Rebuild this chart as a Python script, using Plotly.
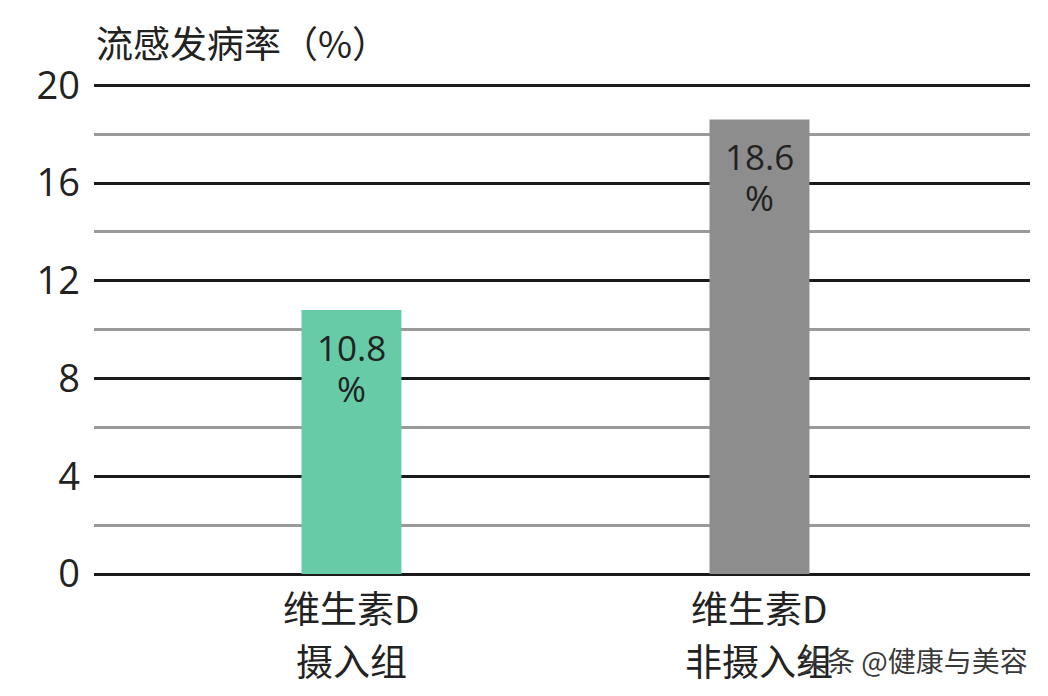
import plotly.graph_objects as go

# chart data
categories = ["维生素D 摄入组", "维生素D 非摄入组"]
label_line1 = ["维生素D", "维生素D"]
label_line2 = ["摄入组", "非摄入组"]
rates = [10.8, 18.6]
rate_text = ["10.8", "18.6"]
bar_colors = ["#66CBA6", "#8E8D8E"]
y_ticks = [0, 4, 8, 12, 16, 20]

cjk = "Noto Sans CJK SC"
num_font = "Open Sans, Noto Sans CJK SC"
ink = "#222222"

fig = go.Figure()
fig.add_trace(go.Bar(
    x=categories,
    y=rates,
    width=0.245,
    marker=dict(color=bar_colors, line=dict(width=0)),
    hoverinfo="skip",
))

# the page body adds 8px around the figure, margins account for it
fig.update_layout(
    width=1048,
    height=696,
    margin=dict(l=86, r=26, t=70, b=130),
    paper_bgcolor="white",
    plot_bgcolor="white",
    showlegend=False,
    xaxis=dict(
        range=[-0.631, 1.663],
        showgrid=False,
        zeroline=False,
        showline=False,
        ticks="",
        showticklabels=False,
        automargin=False,
    ),
    yaxis=dict(
        range=[0, 20.3],
        tickvals=y_ticks,
        ticktext=[str(v) for v in y_ticks],
        showgrid=True,
        gridcolor="#1a1a1a",
        gridwidth=2.5,
        zeroline=True,
        zerolinecolor="#1a1a1a",
        zerolinewidth=2.5,
        showline=False,
        ticks="",
        ticklabelstandoff=13,
        automargin=False,
        tickfont=dict(family=num_font, size=38, color=ink),
        minor=dict(tick0=2, dtick=4, showgrid=True, gridcolor="#9a9a9a", gridwidth=2.5),
    ),
)

# value labels inside the bars, two lines each
for cat, val, txt in zip(categories, rates, rate_text):
    fig.add_annotation(x=cat, y=val, text=txt, showarrow=False, yanchor="middle",
                       yshift=-37, font=dict(family=num_font, size=35, color=ink))
    fig.add_annotation(x=cat, y=val, text="%", showarrow=False, yanchor="middle",
                       yshift=-78, font=dict(family=num_font, size=35, color=ink))

# category labels below the axis, two lines each
for cat, l1, l2 in zip(categories, label_line1, label_line2):
    fig.add_annotation(x=cat, y=0, text=l1, showarrow=False, yanchor="middle",
                       yshift=-33, font=dict(family=cjk, size=37, color=ink))
    fig.add_annotation(x=cat, y=0, text=l2, showarrow=False, yanchor="middle",
                       yshift=-86, font=dict(family=cjk, size=37, color=ink))

# axis title above the plot
fig.add_annotation(
    text="流感发病率（%）", xref="paper", yref="y", x=0.0, y=20,
    xanchor="left", yanchor="middle", yshift=43, showarrow=False,
    font=dict(family=cjk, size=37, color=ink),
)

# watermark
fig.add_annotation(
    text="头条 @健康与美容", xref="paper", yref="y", x=1.0, y=0, xanchor="right",
    yanchor="middle", yshift=-86, xshift=0, showarrow=False,
    font=dict(family=cjk, size=28, color="#3a3a3a"),
)

fig.write_html("out.html")
